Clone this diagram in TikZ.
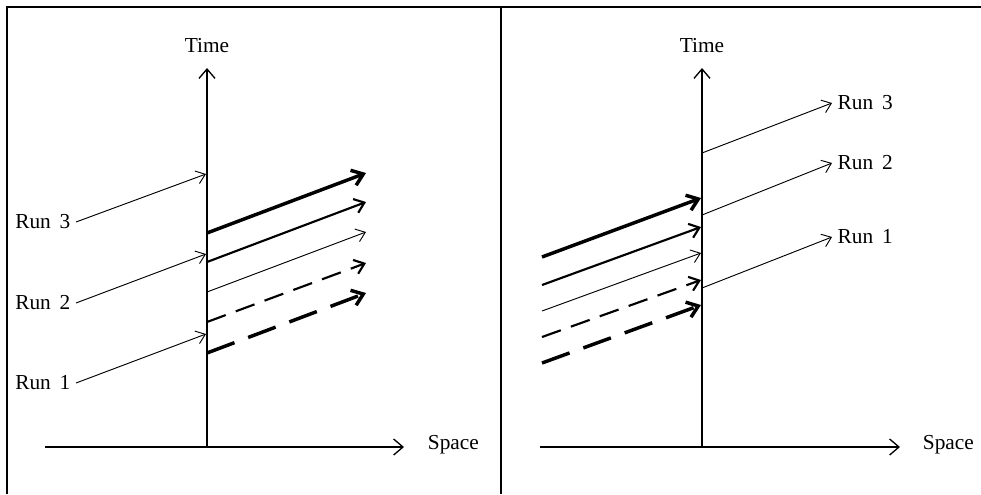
\documentclass[tikz,border=0pt]{standalone}
\usepackage{fontspec}
\setmainfont{Liberation Serif}
\usetikzlibrary{arrows.meta}

\begin{document}
\begin{tikzpicture}[
    x=0.75pt, y=-0.75pt,
    frameline/.style={draw=black, line width=1.4pt},
    axis/.style={draw=black, line width=1pt, -{Straight Barb[length=7pt, width=12pt]}},
    runarrow/.style={draw=black, line width=0.7pt, -{Straight Barb[length=6.5pt, width=10pt]}},
    labeltext/.style={font=\fontsize{16}{19}\selectfont, inner sep=2pt},
    runtext/.style={labeltext, inner sep=4pt},
    thicksolid/.style={draw=black, line width=2.6pt, -{Straight Barb[length=8pt, width=12pt]}},
    midsolid/.style={draw=black, line width=1.6pt, -{Straight Barb[length=7pt, width=11pt]}},
    thinsolid/.style={draw=black, line width=0.7pt, -{Straight Barb[length=6.5pt, width=10pt]}},
    middashed/.style={draw=black, line width=1.6pt, dash pattern=on 15pt off 8pt, -{Straight Barb[length=7pt, width=11pt]}},
    thickdashed/.style={draw=black, line width=2.6pt, dash pattern=on 22pt off 11pt, -{Straight Barb[length=8pt, width=12pt]}}
]
\useasboundingbox (0,0) rectangle (981,494);

%% ================================================================
%% Rahmen
%% ================================================================
\draw[frameline] (7,494) -- (7,7) -- (981,7);
\draw[frameline] (501,7) -- (501,494);

%% ================================================================
%% LINKES PANEL
%% ================================================================
\coordinate (lo) at (207,447);
\coordinate (lxs) at (45,447);
\draw[axis] (lo) -- (207,68) coordinate (ltop);
\draw[axis] (lxs) -- (404,447) coordinate (lright);
\node[labeltext, anchor=south] (ltime) at (207,56) {Time};
\node[labeltext, anchor=west] (lspace) at (425,445) {Space};

%% --- Runs treffen auf die Zeitachse ---
\node[runtext, anchor=east] (lrun3) at (76,222) {Run\,\ 3};
\node[runtext, anchor=east] (lrun2) at (76,303) {Run\,\ 2};
\node[runtext, anchor=east] (lrun1) at (76,383) {Run\,\ 1};
\coordinate (lhit3) at (206,174);
\coordinate (lhit2) at (206,254);
\coordinate (lhit1) at (206,334);
\draw[runarrow] (lrun3.east) -- (lhit3);
\draw[runarrow] (lrun2.east) -- (lhit2);
\draw[runarrow] (lrun1.east) -- (lhit1);

%% --- Ausgehende Pfeile ---
\coordinate (la1) at (207,233); \coordinate (lb1) at (366,173);
\coordinate (la2) at (207,262); \coordinate (lb2) at (366,202);
\coordinate (la3) at (207,292); \coordinate (lb3) at (366,232);
\coordinate (la4) at (207,322); \coordinate (lb4) at (366,263);
\coordinate (la5) at (207,353); \coordinate (lb5) at (366,293);
\draw[thicksolid] (la1) -- (lb1);
\draw[midsolid] (la2) -- (lb2);
\draw[thinsolid] (la3) -- (lb3);
\draw[middashed] (la4) -- (lb4);
\draw[thickdashed] (la5) -- (lb5);

%% ================================================================
%% RECHTES PANEL
%% ================================================================
\coordinate (ro) at (702,447);
\coordinate (rxs) at (540,447);
\draw[axis] (ro) -- (702,68) coordinate (rtop);
\draw[axis] (rxs) -- (900,447) coordinate (rright);
\node[labeltext, anchor=south] (rtime) at (702,56) {Time};
\node[labeltext, anchor=west] (rspace) at (920,445) {Space};

%% --- Eingehende Pfeile ---
\coordinate (ra1) at (542,257); \coordinate (rb1) at (701,198);
\coordinate (ra2) at (542,285); \coordinate (rb2) at (701,227);
\coordinate (ra3) at (542,311); \coordinate (rb3) at (701,253);
\coordinate (ra4) at (542,337); \coordinate (rb4) at (701,280);
\coordinate (ra5) at (542,363); \coordinate (rb5) at (701,305);
\draw[thicksolid] (ra1) -- (rb1);
\draw[midsolid] (ra2) -- (rb2);
\draw[thinsolid] (ra3) -- (rb3);
\draw[middashed] (ra4) -- (rb4);
\draw[thickdashed] (ra5) -- (rb5);

%% --- Runs verlassen die Zeitachse ---
\node[runtext, anchor=west] (rrun3) at (832,103) {Run\,\ 3};
\node[runtext, anchor=west] (rrun2) at (832,163) {Run\,\ 2};
\node[runtext, anchor=west] (rrun1) at (832,237) {Run\,\ 1};
\coordinate (rstart3) at (702,153);
\coordinate (rstart2) at (702,215);
\coordinate (rstart1) at (702,288);
\draw[runarrow] (rstart3) -- (rrun3.west);
\draw[runarrow] (rstart2) -- (rrun2.west);
\draw[runarrow] (rstart1) -- (rrun1.west);

\end{tikzpicture}
\end{document}
